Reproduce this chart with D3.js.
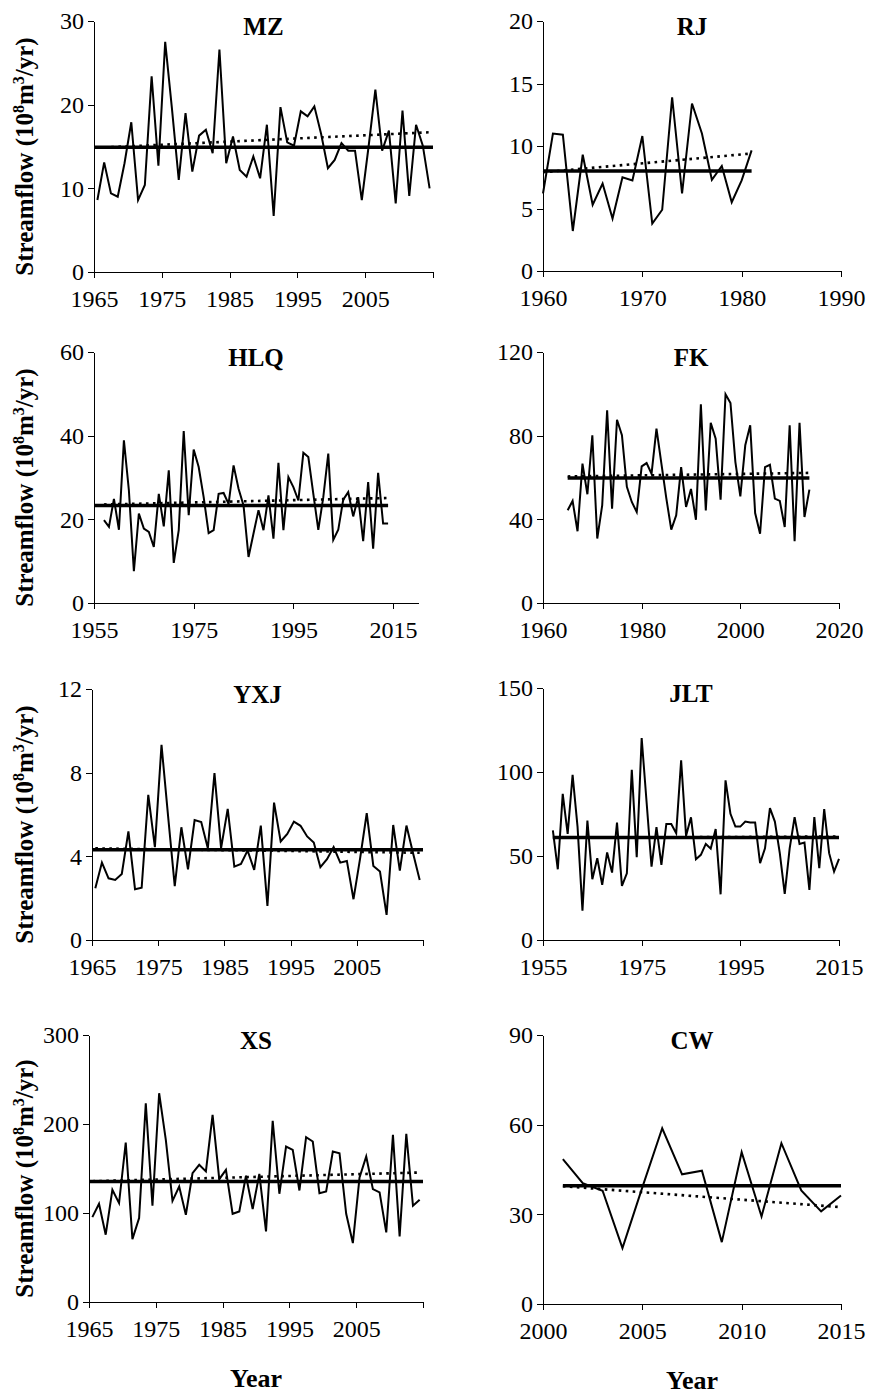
<!DOCTYPE html>
<html>
<head>
<meta charset="utf-8">
<script src="https://cdn.jsdelivr.net/npm/d3@7"></script>
<style>
  body { margin: 0; background: #fff; }
  svg text { font-family: "Liberation Serif", "Times New Roman", serif; fill: #000; }
</style>
</head>
<body>
<div id="chart"></div>
<script>
// station names, in reading order
const stations = ["MZ", "RJ", "HLQ", "FK", "YXJ", "JLT", "XS", "CW"];
const startYears = [1965, 1960, 1957, 1965, 1965, 1957, 1965, 2001];

// annual streamflow (10^8 m3/yr)
const mzFlow = [8.6, 13.1, 9.4, 9.0, 13.0, 17.9, 8.6, 10.4, 23.4, 12.7,
  27.5, 19.5, 11.0, 19.0, 12.0, 16.3, 17.0, 14.2, 26.6, 13.0,
  16.2, 12.2, 11.4, 13.8, 11.2, 17.6, 6.7, 19.7, 15.5, 15.1,
  19.2, 18.6, 19.8, 16.5, 12.4, 13.4, 15.4, 14.5, 14.5, 8.6,
  15.0, 21.8, 14.5, 16.9, 8.2, 19.3, 9.1, 17.6, 15.1, 10.0];
const rjFlow = [6.2, 11.0, 10.9, 3.2, 9.3, 5.3, 7.0, 4.2, 7.5, 7.25,
  10.8, 3.8, 4.9, 13.9, 6.2, 13.4, 11.0, 7.3, 8.4, 5.5, 7.25, 9.65];
const hlqFlow = [19.8, 18.2, 24.9, 17.5, 38.9, 26.9, 7.6, 21.4, 17.8, 17.0,
  13.4, 26.1, 18.3, 31.7, 9.6, 17.4, 41.1, 21.0, 36.7, 32.5,
  25.3, 16.7, 17.4, 26.1, 26.3, 23.7, 32.9, 27.3, 23.3, 11.0,
  16.6, 22.2, 17.4, 25.7, 15.4, 33.5, 17.4, 30.1, 27.7, 24.5,
  35.9, 34.9, 26.1, 17.5, 25.3, 35.7, 15.1, 17.5, 24.7, 26.5,
  20.7, 25.3, 14.8, 28.9, 13.0, 31.1, 19.0, 19.0];
const fkFlow = [44.3, 48.8, 34.3, 66.6, 52.0, 80.2, 30.8, 46.7, 92.1, 45.1,
  87.6, 80.2, 55.5, 48.3, 43.5, 65.3, 66.9, 61.8, 83.4, 66.6,
  50.0, 35.1, 41.9, 65.0, 45.9, 54.5, 39.8, 95.0, 44.3, 86.1,
  78.6, 49.4, 99.8, 95.6, 67.4, 51.0, 75.4, 85.0, 43.0, 33.1,
  65.0, 66.1, 49.9, 48.8, 36.3, 85.0, 29.6, 86.1, 41.1, 54.2];
const yxjFlow = [2.47, 3.7, 2.95, 2.87, 3.16, 5.19, 2.43, 2.5, 6.94, 4.44,
  9.33, 5.9, 2.58, 5.39, 3.38, 5.73, 5.64, 4.39, 7.98, 4.39,
  6.27, 3.51, 3.64, 4.28, 3.35, 5.47, 1.63, 6.57, 4.71, 5.07,
  5.66, 5.46, 4.95, 4.66, 3.48, 3.86, 4.44, 3.70, 3.78, 1.95,
  3.9, 6.06, 3.54, 3.27, 1.2, 5.5, 3.32, 5.47, 4.15, 2.87];
const jltFlow = [65.2, 42.1, 87.0, 63.2, 98.3, 67.5, 17.5, 71.1, 36.2, 48.7,
  32.8, 52.1, 40.1, 69.9, 32.2, 39.7, 101.3, 49.3, 120.2, 82.0,
  43.7, 67.2, 44.7, 69.1, 69.1, 63.6, 106.9, 62.0, 73.0, 48.1,
  50.7, 57.2, 54.4, 66.0, 27.2, 95.0, 75.1, 67.5, 67.5, 70.5,
  69.9, 69.9, 45.7, 54.6, 78.5, 70.5, 51.7, 27.4, 54.6, 73.1,
  57.2, 58.0, 29.8, 73.1, 42.7, 77.9, 51.7, 40.7, 48.3];
const xsFlow = [95.4, 110.4, 75.6, 126.1, 111.1, 179.2, 70.7, 94.3, 223.3, 108.1,
  234.6, 182.2, 113.7, 129.8, 98.0, 144.8, 154.1, 146.7, 210.3, 138.0,
  148.5, 99.1, 101.8, 141.8, 104.4, 144.0, 79.3, 203.5, 121.6, 174.7,
  171.0, 125.3, 185.2, 180.3, 122.3, 124.2, 169.1, 167.2, 99.1, 66.2,
  140.0, 163.5, 126.8, 123.1, 78.2, 187.8, 73.7, 188.9, 108.1, 114.9];
const cwFlow = [48.5, 40.4, 37.9, 18.7, 39.0, 58.8, 43.4, 44.6, 20.7, 50.8,
  29.3, 53.8, 38.0, 31.0, 36.3];

const flows = [mzFlow, rjFlow, hlqFlow, fkFlow, yxjFlow, jltFlow, xsFlow, cwFlow];

// mean (solid) and linear trend (dotted)
const meanFlow = [14.9, 8.0, 23.3, 59.8, 4.32, 61.0, 135.4, 39.6];
const meanFrom = [1965, 1960, 1955, 1965, 1965, 1957, 1965, 2001];
const meanTo = [2015, 1981, 2014, 2014, 2015, 2015, 2015, 2015];
const trendFirst = [14.85, 7.9, 23.55, 60.5, 4.38, 60.8, 135.7, 39.4];
const trendLast = [16.7, 9.4, 25.1, 62.2, 4.17, 61.6, 145.5, 32.4];

// axes
const xDomains = [[1965, 2015], [1960, 1990], [1955, 2020], [1960, 2020],
  [1965, 2015], [1955, 2015], [1965, 2015], [2000, 2015]];
const xTickValues = [
  [1965, 1975, 1985, 1995, 2005, 2015], [1960, 1970, 1980, 1990],
  [1955, 1975, 1995, 2015], [1960, 1980, 2000, 2020],
  [1965, 1975, 1985, 1995, 2005, 2015], [1955, 1975, 1995, 2015],
  [1965, 1975, 1985, 1995, 2005, 2015], [2000, 2005, 2010, 2015]];
const xTickLabels = [
  ["1965", "1975", "1985", "1995", "2005", ""], ["1960", "1970", "1980", "1990"],
  ["1955", "1975", "1995", "2015"], ["1960", "1980", "2000", "2020"],
  ["1965", "1975", "1985", "1995", "2005", ""], ["1955", "1975", "1995", "2015"],
  ["1965", "1975", "1985", "1995", "2005", ""], ["2000", "2005", "2010", "2015"]];
const yMax = [30, 20, 60, 120, 12, 150, 300, 90];
const yStep = [10, 5, 20, 40, 4, 50, 100, 30];

// layout (plot areas in page pixels) -- not data
const boxes = [
  [94, 433, 21, 272], [543, 841, 21, 271],
  [94, 418, 352, 603], [543, 839, 352, 603],
  [92, 423, 689, 940], [543, 839, 688, 940],
  [89, 423, 1035, 1302], [543, 841, 1035, 1304]];
// Excel line-chart panels put points mid-category
const pointShift = [0.5, 0, 0, 0, 0.5, 0, 0.5, 0];

const svg = d3.select("#chart").append("svg")
  .attr("width", 869)
  .attr("height", 1396);

stations.forEach(function (name, i) {
  const [x0, x1, y0, y1] = boxes[i];
  const x = d3.scaleLinear().domain(xDomains[i]).range([x0, x1]);
  const y = d3.scaleLinear().domain([0, yMax[i]]).range([y1, y0]);
  const years = flows[i].map((v, k) => startYears[i] + k);
  const pts = flows[i].map((v, k) => ({year: years[k] + pointShift[i], value: v}));
  const g = svg.append("g");

  const yAxis = d3.axisLeft(y)
    .tickValues(d3.range(0, yMax[i] + yStep[i] / 2, yStep[i]))
    .tickFormat(d3.format("d"))
    .tickSize(6).tickSizeOuter(0).tickPadding(4);
  const xAxis = d3.axisBottom(x)
    .tickValues(xTickValues[i])
    .tickFormat((d, k) => xTickLabels[i][k])
    .tickSize(6).tickSizeOuter(0).tickPadding(12);

  g.append("g").attr("transform", `translate(${x0},0)`).call(yAxis);
  g.append("g").attr("transform", `translate(0,${y1})`).call(xAxis);
  g.selectAll(".domain, .tick line")
    .attr("stroke", "#000").attr("stroke-width", 1).attr("shape-rendering", "crispEdges");
  g.selectAll(".tick text").style("font-size", "24px");

  // annual series
  g.append("path")
    .datum(pts)
    .attr("fill", "none")
    .attr("stroke", "#000")
    .attr("stroke-width", 2)
    .attr("d", d3.line().x(d => x(d.year)).y(d => y(d.value)));

  // mean line
  g.append("line")
    .attr("x1", x(meanFrom[i])).attr("x2", x(meanTo[i]))
    .attr("y1", y(meanFlow[i])).attr("y2", y(meanFlow[i]))
    .attr("stroke", "#000").attr("stroke-width", 3.5);

  // trend line
  const first = pts[0].year, last = pts[pts.length - 1].year;
  g.append("line")
    .attr("x1", x(first)).attr("x2", x(last))
    .attr("y1", y(trendFirst[i])).attr("y2", y(trendLast[i]))
    .attr("stroke", "#000").attr("stroke-width", 2.6)
    .attr("stroke-dasharray", "2.6 4.4");

  // station name
  g.append("text")
    .attr("x", (x0 + x1) / 2)
    .attr("y", y0 + 14)
    .attr("text-anchor", "middle")
    .style("font-size", "25px")
    .style("font-weight", "bold")
    .text(name);

  // y label on the left column
  if (i % 2 === 0) {
    const lab = g.append("text")
      .attr("transform", `translate(33,${(y0 + y1) / 2 + 10}) rotate(-90)`)
      .attr("text-anchor", "middle")
      .style("font-size", "25px")
      .style("font-weight", "bold");
    lab.append("tspan").text("Streamflow (10");
    lab.append("tspan").attr("dy", -9).style("font-size", "16px").text("8");
    lab.append("tspan").attr("dy", 9).text("m");
    lab.append("tspan").attr("dy", -9).style("font-size", "16px").text("3");
    lab.append("tspan").attr("dy", 9).text("/yr)");
  }

  // x label on the bottom row
  if (i >= 6) {
    g.append("text")
      .attr("x", (x0 + x1) / 2)
      .attr("y", y1 + 85)
      .attr("text-anchor", "middle")
      .style("font-size", "26px")
      .style("font-weight", "bold")
      .text("Year");
  }
});
</script>
</body>
</html>
